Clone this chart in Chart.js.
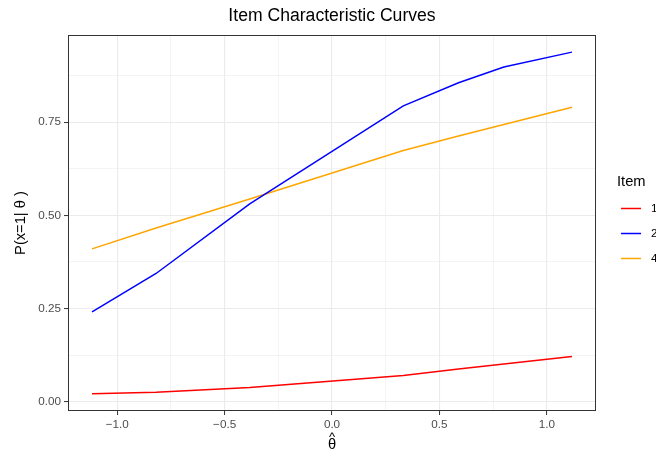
<!DOCTYPE html>
<html>
<head>
<meta charset="utf-8">
<script src="https://cdn.jsdelivr.net/npm/chart.js@4/dist/chart.umd.min.js"></script>
<style>
html,body{margin:0;padding:0;background:#fff;}
canvas{display:block;}
</style>
</head>
<body>
<canvas id="c" width="656" height="454"></canvas>
<script>
// ---- data ----
const thetaHat = [-1.117, -0.819, -0.383, 0.332, 0.589, 0.800, 1.117];
const item1 = [0.021, 0.025, 0.038, 0.070, 0.088, 0.101, 0.121];
const item2 = [0.241, 0.344, 0.531, 0.794, 0.856, 0.898, 0.938];
const item4 = [0.410, 0.466, 0.544, 0.674, 0.713, 0.744, 0.790];
const seriesNames = ['1', '2', '4'];
const seriesColors = ['#FF0000', '#0000FF', '#FFA500'];
const xTicks = [-1, -0.5, 0, 0.5, 1];
const xTickLabels = ['\u22121.0', '\u22120.5', '0.0', '0.5', '1.0'];
const yTicks = [0, 0.25, 0.5, 0.75];
const yTickLabels = ['0.00', '0.25', '0.50', '0.75'];
const titleText = 'Item Characteristic Curves';
const xTitle = '\u03B8';
const xTitleHat = '^';
const yTitle = 'P(x=1| \u03B8 )';
const legendTitle = 'Item';

const FONT = '"Liberation Sans", Arial, sans-serif';

function pts(ys){ return thetaHat.map((x,i)=>({x:x, y:ys[i]})); }
function withMinor(major){
  const out = [];
  for (let i=0;i<major.length;i++){
    out.push(major[i]);
    if (i<major.length-1) out.push((major[i]+major[i+1])/2);
  }
  out.push(major[major.length-1] + (major[1]-major[0])/2);
  return out;
}
const xAll = withMinor(xTicks).filter(v=>v>-1.229 && v<1.229);
const yAll = withMinor(yTicks);
function isMajor(list, v){ return list.some(t=>Math.abs(t-v)<1e-9); }
function labelFor(list, labels, v){
  const i = list.findIndex(t=>Math.abs(t-v)<1e-9);
  return i>=0 ? labels[i] : '';
}

const decor = {
  id: 'decor',
  afterDatasetsDraw(chart){
    const ctx = chart.ctx, a = chart.chartArea;
    const cx = (a.left+a.right)/2;
    ctx.save();
    // panel border
    ctx.strokeStyle = '#333333';
    ctx.lineWidth = 1;
    ctx.strokeRect(Math.round(a.left)+0.5, Math.round(a.top)+0.5, Math.round(a.right-a.left)-1, Math.round(a.bottom-a.top)-1);
    // title
    ctx.fillStyle = '#000';
    ctx.font = '17.6px ' + FONT;
    ctx.textAlign = 'center';
    ctx.textBaseline = 'middle';
    ctx.fillText(titleText, cx, 16);
    // x axis title: theta with hat
    ctx.font = '14.7px ' + FONT;
    ctx.textBaseline = 'alphabetic';
    ctx.fillText(xTitle, cx, 449);
    ctx.font = '13px ' + FONT;
    ctx.fillText(xTitleHat, cx, 441);
    // legend
    ctx.textAlign = 'left';
    ctx.textBaseline = 'middle';
    ctx.font = '14.7px ' + FONT;
    ctx.fillText(legendTitle, 617, 182);
    ctx.font = '11.7px ' + FONT;
    const ys = [208.5, 233.5, 258.5];
    for (let i=0;i<seriesNames.length;i++){
      ctx.strokeStyle = seriesColors[i];
      ctx.lineWidth = 1.5;
      ctx.beginPath();
      ctx.moveTo(621, ys[i]);
      ctx.lineTo(641, ys[i]);
      ctx.stroke();
      ctx.fillStyle = '#000';
      ctx.fillText(seriesNames[i], 651, ys[i]);
    }
    ctx.restore();
  }
};

new Chart(document.getElementById('c'), {
  type: 'line',
  data: {
    datasets: [item1, item2, item4].map((d,i)=>({
      label: seriesNames[i],
      data: pts(d),
      borderColor: seriesColors[i],
      backgroundColor: seriesColors[i],
      borderWidth: 1.5,
      pointRadius: 0,
      tension: 0,
      fill: false
    }))
  },
  options: {
    responsive: false,
    animation: false,
    devicePixelRatio: 1,
    layout: { padding: { left: 0, top: 35, right: 60, bottom: 0 } },
    plugins: { legend: { display: false }, title: { display: false }, tooltip: { enabled: false } },
    scales: {
      x: {
        type: 'linear',
        min: -1.229, max: 1.229,
        afterBuildTicks(scale){ scale.ticks = xAll.map(v=>({value:v})); },
        afterFit(scale){ scale.height = 43; },
        grid: {
          color: c => '#EBEBEB',
          lineWidth: c => (c.tick && isMajor(xTicks, c.tick.value)) ? 1.1 : 0.55,
          tickColor: c => (c.tick && isMajor(xTicks, c.tick.value)) ? '#333333' : 'rgba(0,0,0,0)',
          tickLength: 4,
          tickWidth: 1
        },
        border: { display: false },
        ticks: {
          autoSkip: false, maxRotation: 0,
          padding: 3,
          color: '#4D4D4D',
          font: { family: FONT, size: 11.7 },
          callback: v => labelFor(xTicks, xTickLabels, v)
        },
        title: { display: false }
      },
      y: {
        type: 'linear',
        min: -0.025, max: 0.984,
        afterBuildTicks(scale){ scale.ticks = yAll.map(v=>({value:v})); },
        afterFit(scale){ scale.width = 68; },
        grid: {
          color: c => '#EBEBEB',
          lineWidth: c => (c.tick && isMajor(yTicks, c.tick.value)) ? 1.1 : 0.55,
          tickColor: c => (c.tick && isMajor(yTicks, c.tick.value)) ? '#333333' : 'rgba(0,0,0,0)',
          tickLength: 4,
          tickWidth: 1
        },
        border: { display: false },
        ticks: {
          autoSkip: false,
          padding: 3,
          color: '#4D4D4D',
          font: { family: FONT, size: 11.7 },
          callback: v => labelFor(yTicks, yTickLabels, v)
        },
        title: {
          display: true, text: yTitle, color: '#000',
          font: { family: FONT, size: 14.7 },
          padding: { top: 12, bottom: 0 }
        }
      }
    }
  },
  plugins: [decor]
});
</script>
</body>
</html>
